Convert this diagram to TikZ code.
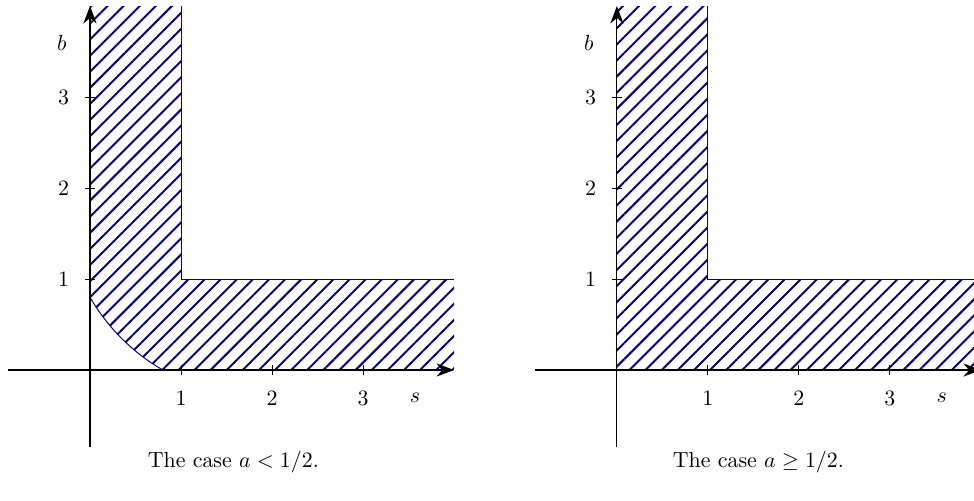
\documentclass[tikz,border=0pt]{standalone}
\usepackage{amssymb}
\usepackage{tikz}
\usetikzlibrary{arrows.meta,patterns.meta,positioning}
\definecolor{hatch}{RGB}{0,0,128}
\newcommand{\caseaxes}[1]{%
    % #1=prefix for node names
    \draw[axis] (-0.9,0) -- (4,0);
    \draw[axis] (0,-0.85) -- (0,4);
    \foreach \k in {1,2,3} {
        \draw[tick] (\k,-0.055) -- (\k,0.055);
        \draw[tick] (-0.055,\k) -- (0.055,\k);
        \node (#1x\k) at (\k,-0.31) {$\k$};
        \node (#1y\k) at (-0.29,\k) {$\k$};
    }
    \node (#1s) at (3.57,-0.31) {$s$};
    \node (#1b) at (-0.31,3.6) {$b$};
}

\begin{document}
\begin{tikzpicture}[x=1.46cm, y=1.46cm,
    axis/.style={-{Stealth[length=8pt,width=6pt]}, line width=0.5pt},
    tick/.style={line width=0.4pt},
    region/.style={pattern={Lines[angle=45,distance=5.2pt,line width=0.9pt]}, pattern color=hatch},
    rim/.style={draw=hatch, line width=0.45pt}
]
    \useasboundingbox (-0.989,-1.429) rectangle (9.714,4.066);

    % case a < 1/2
    \fill[region] (0,0.8) arc[start angle=210.07, end angle=239.93, radius=2.195]
        -- (4,0) -- (4,1) -- (1,1) -- (1,4) -- (0,4) -- cycle;
    \draw[rim] (0,0.8) arc[start angle=210.07, end angle=239.93, radius=2.195];
    \draw[rim] (1,4) -- (1,1) -- (4,1);
    \caseaxes{l}
    \node[anchor=base west] (lcap) at (0.55,-1.07) {The case $a<1/2$.};

    % case a >= 1/2
    \begin{scope}[xshift=5.79*1.46cm]
        \fill[region] (0,0) -- (4,0) -- (4,1) -- (1,1) -- (1,4) -- (0,4) -- cycle;
        \draw[rim] (1,4) -- (1,1) -- (4,1);
        \caseaxes{r}
        \node[anchor=base west] (rcap) at (0.53,-1.07) {The case $a\geq 1/2$.};
    \end{scope}
\end{tikzpicture}
\end{document}
